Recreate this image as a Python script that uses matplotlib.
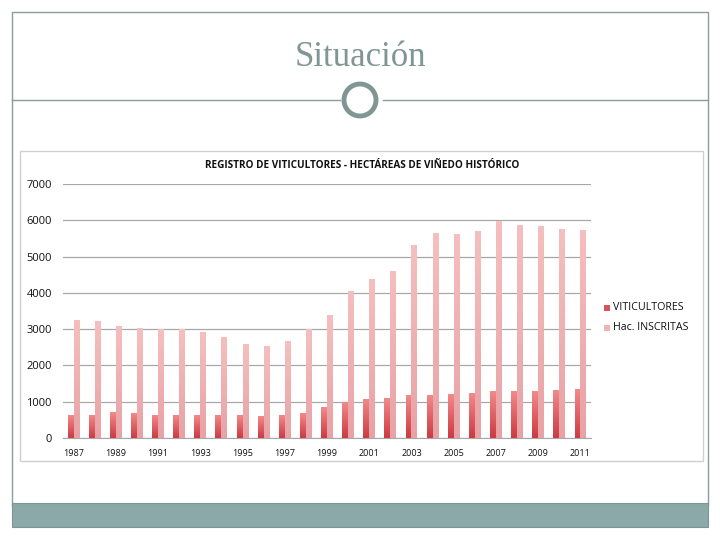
import numpy as np
import matplotlib
matplotlib.use("Agg")
import matplotlib.pyplot as plt
from matplotlib.colors import LinearSegmentedColormap
from matplotlib.patches import Rectangle, Circle

# Data
years = list(range(1987, 2012))
viticultores = [631, 631, 695, 668, 622, 622, 622, 622, 613, 595, 622, 668,
                842, 979, 1070, 1089, 1162, 1180, 1189, 1226, 1272, 1272, 1281, 1308, 1327]
hac_inscritas = [3230, 3220, 3083, 3028, 3000, 2983, 2918, 2781, 2589, 2534, 2671, 3000,
                 3385, 4044, 4355, 4575, 5316, 5627, 5608, 5691, 5974, 5855, 5828, 5755, 5709]
tick_years = [str(y) for y in range(1987, 2012, 2)]

W, H = 720, 540
fig = plt.figure(figsize=(7.2, 5.4), dpi=100)
fig.patch.set_facecolor("white")

def px_axes(x0, y0, x1, y1, **kw):
    return fig.add_axes([x0 / W, 1 - y1 / H, (x1 - x0) / W, (y1 - y0) / H], **kw)

# slide decoration
deco = px_axes(0, 0, W, H)
deco.set_xlim(0, W)
deco.set_ylim(H, 0)
deco.axis("off")
teal = "#8aa9a8"
deco.add_patch(Rectangle((12, 12), 696, 494, fill=False, ec="#8c9d9c", lw=1))
deco.add_patch(Rectangle((12, 503), 696, 24, fc=teal, ec="#7b9695", lw=0.8))
deco.plot([12, 340], [100, 100], color="#8c9d9c", lw=1)
deco.plot([383, 708], [100, 100], color="#8c9d9c", lw=1)
deco.add_patch(Circle((360, 100), 16, fill=False, ec="#7f9695", lw=3.5))
deco.text(360, 57, "Situación", ha="center", va="center", fontsize=25,
          family="Liberation Serif", color="#7f9695")

# chart frame
deco.add_patch(Rectangle((20, 151), 683, 310, fill=False, ec="#d0d0d0", lw=1))
deco.text(362, 166, "REGISTRO DE VITICULTORES - HECTÁREAS DE VIÑEDO HISTÓRICO",
          ha="center", va="center", fontsize=7.2, fontweight="bold",
          family="Open Sans", color="#111111")

ax = px_axes(63, 184, 591, 438)
n = len(years)
x = np.arange(n)
bw = 0.28
ax.set_xlim(-0.5, n - 0.5)
ax.set_ylim(0, 7000)

vit_cmap = LinearSegmentedColormap.from_list("vit", ["#cc3a42", "#f28a8a"])
hac_cmap = LinearSegmentedColormap.from_list("hac", ["#e8a2a6", "#f5bfbf"])
grad = np.linspace(0, 1, 64).reshape(-1, 1)

def grad_bars(xs, vals, cmap, offset):
    for xi, v in zip(xs, vals):
        x0 = xi + offset
        ax.imshow(grad, cmap=cmap, origin="lower", aspect="auto",
                  extent=(x0, x0 + bw, 0, v), zorder=2, interpolation="bilinear")
    ax.set_xlim(-0.5, n - 0.5)
    ax.set_ylim(0, 7000)

grad_bars(x, viticultores, vit_cmap, -bw)
grad_bars(x, hac_inscritas, hac_cmap, 0)

ax.set_yticks(range(0, 7001, 1000))
ax.grid(axis="y", color="#a8a8a8", lw=0.9, zorder=0)
ax.set_axisbelow(True)
ax.set_xticks(x[::2])
ax.set_xticklabels(tick_years)
ax.tick_params(length=0, colors="#111111", pad=8)
for lab in ax.get_xticklabels() + ax.get_yticklabels():
    lab.set_family("Open Sans")
ax.tick_params(axis="y", labelsize=8)
ax.tick_params(axis="x", labelsize=6.5)
for s in ["top", "right", "left"]:
    ax.spines[s].set_visible(False)
ax.spines["bottom"].set_color("#a8a8a8")

# legend
deco.add_patch(Rectangle((604, 305), 6, 6, fc="#d9535a", ec="none"))
deco.add_patch(Rectangle((604, 325), 6, 6, fc="#f0b4b6", ec="none"))
deco.text(613, 308, "VITICULTORES", va="center", fontsize=7.7, family="Open Sans", color="#111111")
deco.text(613, 328, "Hac. INSCRITAS", va="center", fontsize=7.7, family="Open Sans", color="#111111")

fig.savefig("out.png", dpi=100, facecolor="white")
